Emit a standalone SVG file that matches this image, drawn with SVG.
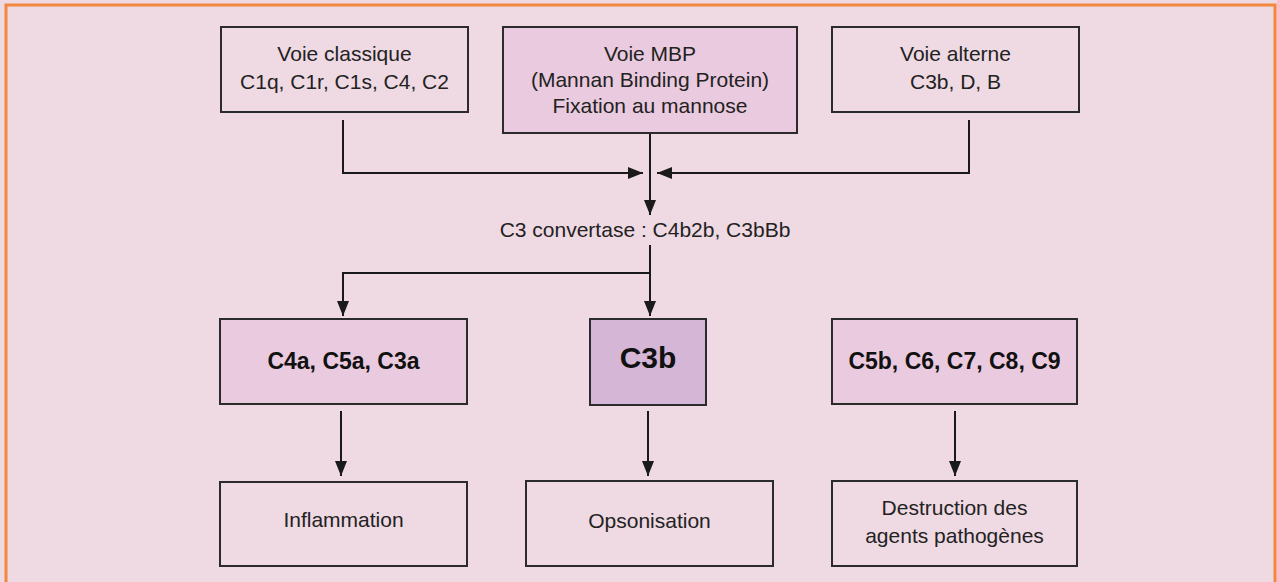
<svg xmlns="http://www.w3.org/2000/svg" width="1277" height="582" viewBox="0 0 1277 582">
<style>
.box{stroke:#2b2b2b;stroke-width:2}
.plain{fill:#efd9e3}
.pink{fill:#eacade}
.lav{fill:#d5b6d6}
.t{font-family:"Liberation Sans",Arial,sans-serif;font-size:21px;fill:#222;text-anchor:middle}
.b{font-family:"Liberation Sans",Arial,sans-serif;font-size:23px;font-weight:bold;fill:#111;text-anchor:middle}
.conn{fill:none;stroke:#1a1a1a;stroke-width:2}
</style>
<defs>
<marker id="ah" markerUnits="userSpaceOnUse" markerWidth="15" markerHeight="12" refX="15" refY="6" orient="auto">
<path d="M0,0 L15,6 L0,12 z" fill="#1a1a1a"/>
</marker>
</defs>
<rect x="0" y="0" width="1277" height="582" fill="#efd9e3"/>
<rect x="6" y="5" width="1269" height="600" fill="#efd9e3" stroke="#f2873d" stroke-width="3"/>

<g id="conns">
<path class="conn" d="M343,120 V173 H643" marker-end="url(#ah)"/>
<path class="conn" d="M969,120 V173 H657" marker-end="url(#ah)"/>
<path class="conn" d="M650,133 V215" marker-end="url(#ah)"/>
<path class="conn" d="M650,245 V316" marker-end="url(#ah)"/>
<path class="conn" d="M650,273 H343 V316" marker-end="url(#ah)"/>
<path class="conn" d="M341,411 V476" marker-end="url(#ah)"/>
<path class="conn" d="M648,411 V476" marker-end="url(#ah)"/>
<path class="conn" d="M955,411 V476" marker-end="url(#ah)"/>
</g>

<g id="n-classique">
<rect class="box plain" x="221" y="27" width="247" height="85"/>
<text class="t" x="344.5" y="61">Voie classique</text>
<text class="t" x="344.5" y="89">C1q, C1r, C1s, C4, C2</text>
</g>
<g id="n-mbp">
<rect class="box pink" x="503" y="27" width="294" height="106"/>
<text class="t" x="650" y="61">Voie MBP</text>
<text class="t" x="650" y="87">(Mannan Binding Protein)</text>
<text class="t" x="650" y="113">Fixation au mannose</text>
</g>
<g id="n-alterne">
<rect class="box plain" x="832" y="27" width="247" height="85"/>
<text class="t" x="955.5" y="61">Voie alterne</text>
<text class="t" x="955.5" y="89">C3b, D, B</text>
</g>
<g id="n-convertase">
<text class="t" x="645" y="237">C3 convertase : C4b2b, C3bBb</text>
</g>
<g id="n-c4a">
<rect class="box pink" x="220" y="319" width="247" height="85"/>
<text class="b" x="343.5" y="369">C4a, C5a, C3a</text>
</g>
<g id="n-c3b">
<rect class="box lav" x="590" y="319" width="116" height="86"/>
<text class="b" x="648" y="368" style="font-size:30px">C3b</text>
</g>
<g id="n-c5b">
<rect class="box pink" x="832" y="319" width="245" height="85"/>
<text class="b" x="954.5" y="369">C5b, C6, C7, C8, C9</text>
</g>
<g id="n-inflammation">
<rect class="box plain" x="220" y="482" width="247" height="84"/>
<text class="t" x="343.5" y="527">Inflammation</text>
</g>
<g id="n-opsonisation">
<rect class="box plain" x="526" y="481" width="247" height="85"/>
<text class="t" x="649.5" y="528">Opsonisation</text>
</g>
<g id="n-destruction">
<rect class="box plain" x="832" y="481" width="245" height="85"/>
<text class="t" x="954.5" y="515">Destruction des</text>
<text class="t" x="954.5" y="543">agents pathogènes</text>
</g>
</svg>
